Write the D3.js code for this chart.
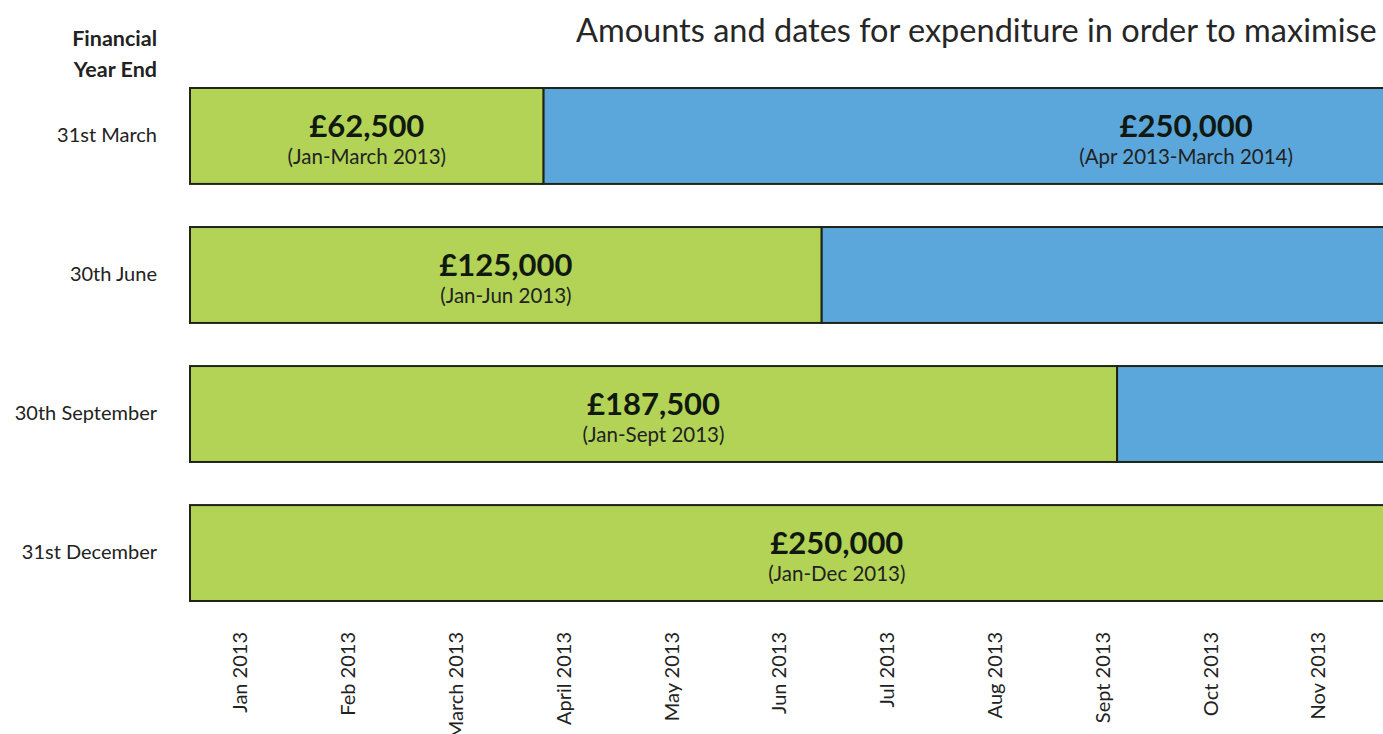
<!DOCTYPE html>
<html>
<head>
<meta charset="utf-8">
<script src="https://cdn.jsdelivr.net/npm/d3@7"></script>
<style>
  body { margin: 0; background: #fff; overflow: hidden; }
  svg { display: block; font-family: Lato, "Open Sans", sans-serif; }
</style>
</head>
<body>
<div id="chart"></div>
<script>
// Rows (financial year end) and the two spending periods per row.
const yearEnds = ["31st March", "30th June", "30th September", "31st December"];
const firstAmounts = ["£62,500", "£125,000", "£187,500", "£250,000"];
const firstPeriods = ["(Jan-March 2013)", "(Jan-Jun 2013)", "(Jan-Sept 2013)", "(Jan-Dec 2013)"];
const firstEnd = [3.28, 5.86, 8.6, 12];        // in months from Jan 2013
const secondAmounts = ["£250,000", null, null, null];
const secondPeriods = ["(Apr 2013-March 2014)", null, null, null];
const secondEnd = [15.2, 17.9, 20.6, null];
const monthLabels = ["Jan 2013", "Feb 2013", "March 2013", "April 2013", "May 2013", "Jun 2013",
  "Jul 2013", "Aug 2013", "Sept 2013", "Oct 2013", "Nov 2013"];

const width = 1383, height = 734;

const svg = d3.select("#chart").append("svg")
  .attr("width", width)
  .attr("height", height);

const x = d3.scaleLinear().domain([0, 12]).range([190, 190 + 12 * 107.8]);
const y = d3.scaleBand().domain(yearEnds).range([88, 601]).paddingInner(0.31);

// Title (runs off the right edge like the original)
svg.append("text")
  .attr("x", 576)
  .attr("y", 42)
  .attr("font-size", 32.5)
  .attr("fill", "#262626")
  .text("Amounts and dates for expenditure in order to maximise");

// Column heading
const head = svg.append("text")
  .attr("text-anchor", "end")
  .attr("font-size", 21.5)
  .attr("font-weight", "bold")
  .attr("fill", "#222");
head.append("tspan").attr("x", 157).attr("y", 46).text("Financial");
head.append("tspan").attr("x", 157).attr("y", 77).text("Year End");

// Build segments from the arrays
const segments = [];
yearEnds.forEach((row, i) => {
  segments.push({ row, start: 0, end: firstEnd[i], color: "#b2d355", amount: firstAmounts[i], period: firstPeriods[i] });
  if (secondEnd[i] != null) {
    segments.push({ row, start: firstEnd[i], end: secondEnd[i], color: "#5ba7db", amount: secondAmounts[i], period: secondPeriods[i] });
  }
});

const bars = svg.append("g");
bars.selectAll("rect")
  .data(segments)
  .enter().append("rect")
  .attr("x", d => x(d.start))
  .attr("y", d => y(d.row))
  .attr("width", d => x(d.end) - x(d.start))
  .attr("height", y.bandwidth())
  .attr("fill", d => d.color)
  .attr("stroke", "#1f2418")
  .attr("stroke-width", 2);

const labelled = segments.filter(d => d.amount);
bars.selectAll("text.amount")
  .data(labelled)
  .enter().append("text")
  .attr("class", "amount")
  .attr("x", d => (x(d.start) + x(d.end)) / 2)
  .attr("y", d => y(d.row) + 49)
  .attr("text-anchor", "middle")
  .attr("font-size", 31)
  .attr("font-weight", "bold")
  .attr("fill", "#101810")
  .text(d => d.amount);

bars.selectAll("text.period")
  .data(labelled)
  .enter().append("text")
  .attr("class", "period")
  .attr("x", d => (x(d.start) + x(d.end)) / 2)
  .attr("y", d => y(d.row) + 76)
  .attr("text-anchor", "middle")
  .attr("font-size", 20.5)
  .attr("fill", "#222")
  .text(d => d.period);

// Row labels
const yAxis = svg.append("g")
  .attr("transform", "translate(157,0)")
  .call(d3.axisLeft(y).tickSize(0).tickPadding(0));
yAxis.select(".domain").remove();
yAxis.selectAll("text")
  .attr("font-family", "Lato, sans-serif")
  .attr("font-size", 20)
  .attr("fill", "#222");

// Month labels, rotated
const xAxis = svg.append("g")
  .attr("transform", "translate(0,632)")
  .call(d3.axisBottom(x)
    .tickValues(d3.range(monthLabels.length).map(m => m + 0.5))
    .tickFormat((d, i) => monthLabels[i])
    .tickSize(0));
xAxis.select(".domain").remove();
xAxis.selectAll("text")
  .attr("font-family", "Lato, sans-serif")
  .attr("font-size", 20)
  .attr("fill", "#222")
  .attr("transform", "rotate(-90)")
  .attr("text-anchor", "end")
  .attr("x", 0)
  .attr("y", -4)
  .attr("dy", "0.35em");
</script>
</body>
</html>
